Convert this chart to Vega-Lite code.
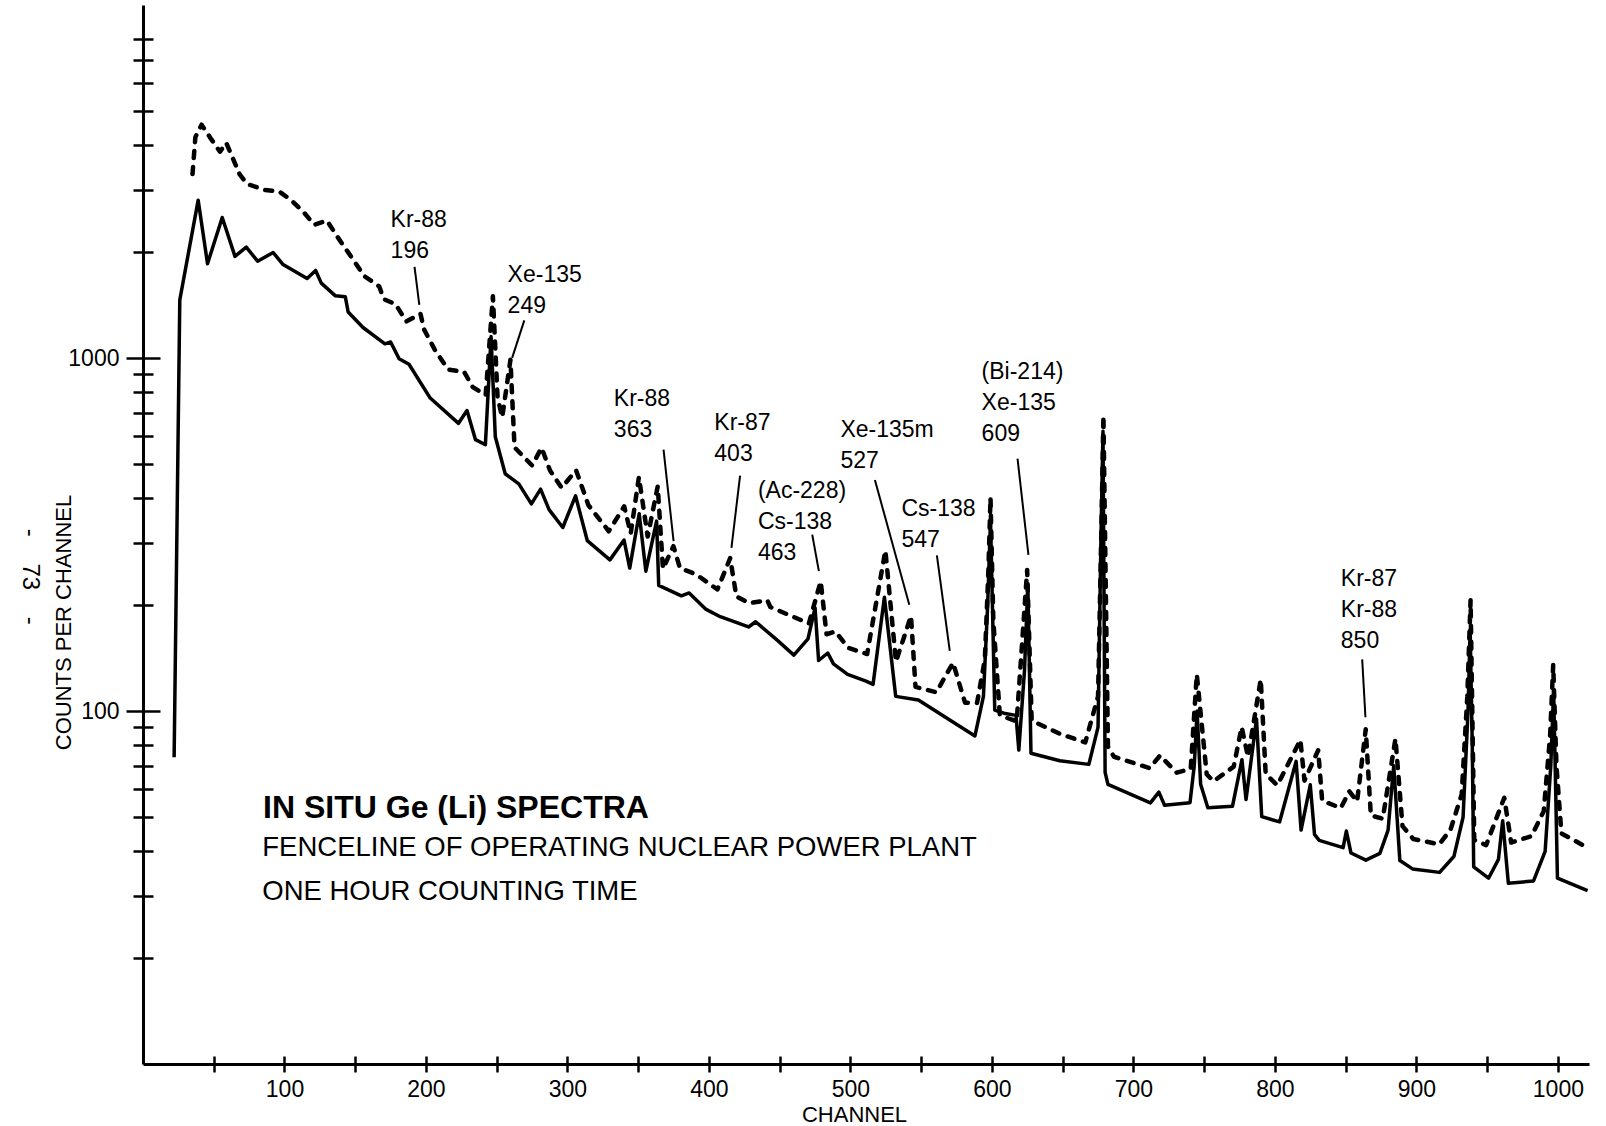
{
  "$schema": "https://vega.github.io/schema/vega-lite/v6.json",
  "width": 1446,
  "height": 1059,
  "autosize": "none",
  "padding": {"left": 143, "top": 5, "right": 17, "bottom": 62},
  "background": "white",
  "config": {
    "view": {"stroke": null},
    "font": "Liberation Sans",
    "axis": {"domainColor": "black", "tickColor": "black", "labelColor": "black", "titleColor": "black", "grid": false, "labelFont": "Liberation Sans", "titleFont": "Liberation Sans"}
  },
  "datasets": {
    "solid": [
      {"ch":22,"count":74},{"ch":26,"count":1460},{"ch":39,"count":2800},{"ch":45.6,"count":1850},{"ch":56,"count":2500},{"ch":65,"count":1940},{"ch":73,"count":2060},{"ch":81,"count":1880},{"ch":92,"count":1990},{"ch":99,"count":1840},{"ch":116,"count":1680},{"ch":122,"count":1770},{"ch":126,"count":1630},{"ch":136,"count":1500},{"ch":143,"count":1490},{"ch":145,"count":1350},{"ch":155.5,"count":1220},{"ch":171,"count":1097},{"ch":175,"count":1110},{"ch":181,"count":995},{"ch":188,"count":960},{"ch":203,"count":770},{"ch":223,"count":653},{"ch":229,"count":710},{"ch":235,"count":587},{"ch":242,"count":568},{"ch":246,"count":1150},{"ch":249,"count":598},{"ch":256,"count":470},{"ch":265.6,"count":440},{"ch":274.5,"count":386},{"ch":281,"count":425},{"ch":287,"count":372},{"ch":296.7,"count":331},{"ch":305.7,"count":407},{"ch":314,"count":304},{"ch":330,"count":268},{"ch":340,"count":305},{"ch":344,"count":254},{"ch":350.7,"count":362},{"ch":355.4,"count":249},{"ch":363,"count":345},{"ch":364.5,"count":227},{"ch":380.5,"count":212},{"ch":386,"count":216},{"ch":398,"count":194},{"ch":408,"count":185},{"ch":428,"count":173},{"ch":433,"count":179},{"ch":448,"count":159},{"ch":460,"count":144},{"ch":470,"count":160},{"ch":475,"count":196},{"ch":477.5,"count":139},{"ch":484,"count":146},{"ch":488,"count":136},{"ch":498,"count":127},{"ch":511,"count":121.5},{"ch":516,"count":119},{"ch":524,"count":210},{"ch":532,"count":110},{"ch":548,"count":107.5},{"ch":588,"count":85},{"ch":594,"count":110},{"ch":597,"count":200},{"ch":599,"count":350},{"ch":602,"count":100.6},{"ch":608.5,"count":98.6},{"ch":617,"count":97.2},{"ch":619,"count":77.5},{"ch":623,"count":130},{"ch":625.4,"count":228},{"ch":627.6,"count":75.9},{"ch":648,"count":72.3},{"ch":668.5,"count":70.6},{"ch":675,"count":90},{"ch":677,"count":300},{"ch":678.5,"count":620},{"ch":680,"count":67},{"ch":682,"count":62},{"ch":712,"count":54.9},{"ch":718,"count":58.9},{"ch":722,"count":54.1},{"ch":740,"count":55},{"ch":743,"count":70},{"ch":745,"count":100},{"ch":747.5,"count":62},{"ch":752.6,"count":53.2},{"ch":770,"count":53.7},{"ch":776.7,"count":72.8},{"ch":779.6,"count":56.1},{"ch":787,"count":95},{"ch":790.7,"count":50.2},{"ch":803.3,"count":48.5},{"ch":815,"count":72},{"ch":818.5,"count":46},{"ch":825,"count":61.8},{"ch":828,"count":44.7},{"ch":831.3,"count":43},{"ch":848.2,"count":41},{"ch":850.5,"count":45.7},{"ch":853.8,"count":39.6},{"ch":864.3,"count":37.8},{"ch":874.2,"count":39.5},{"ch":880,"count":46},{"ch":882.5,"count":60},{"ch":884,"count":70},{"ch":888.3,"count":37.7},{"ch":897.3,"count":35.7},{"ch":916.4,"count":34.9},{"ch":926.5,"count":38.7},{"ch":933,"count":50},{"ch":936.5,"count":100},{"ch":938,"count":170},{"ch":939.5,"count":80},{"ch":940.5,"count":36.2},{"ch":951,"count":33.6},{"ch":958,"count":38},{"ch":961,"count":48.9},{"ch":965,"count":32.5},{"ch":982.8,"count":33},{"ch":991,"count":40},{"ch":995,"count":70},{"ch":997,"count":115},{"ch":999.7,"count":33.6},{"ch":1021,"count":31}
    ],
    "dashed": [
      {"ch":35,"count":3320},{"ch":37,"count":4220},{"ch":41.4,"count":4580},{"ch":47.5,"count":4210},{"ch":54.4,"count":3840},{"ch":58.8,"count":4070},{"ch":68.2,"count":3320},{"ch":73.7,"count":3110},{"ch":86.3,"count":2990},{"ch":96.2,"count":2965},{"ch":105.2,"count":2790},{"ch":114.2,"count":2570},{"ch":121,"count":2385},{"ch":130,"count":2450},{"ch":137,"count":2217},{"ch":146.8,"count":1944},{"ch":156.4,"count":1706},{"ch":166.9,"count":1596},{"ch":170.2,"count":1468},{"ch":178.6,"count":1419},{"ch":186.1,"count":1269},{"ch":196.1,"count":1334},{"ch":198.7,"count":1203},{"ch":206.2,"count":1056},{"ch":215.7,"count":927},{"ch":227,"count":913},{"ch":233.1,"count":827},{"ch":242.2,"count":785},{"ch":247.3,"count":1496},{"ch":250.6,"count":774},{"ch":253.9,"count":679},{"ch":259.7,"count":988},{"ch":262.6,"count":558},{"ch":275,"count":496},{"ch":281.7,"count":557},{"ch":287.7,"count":480},{"ch":295.9,"count":429},{"ch":306.1,"count":481},{"ch":314.8,"count":383},{"ch":329.2,"count":323},{"ch":340.1,"count":380},{"ch":344.7,"count":318},{"ch":350.5,"count":460},{"ch":356.7,"count":312},{"ch":363.8,"count":433},{"ch":367.5,"count":253},{"ch":374.9,"count":293},{"ch":379.5,"count":254},{"ch":390.8,"count":244},{"ch":406,"count":221},{"ch":415,"count":271},{"ch":419.4,"count":211},{"ch":428.5,"count":202},{"ch":441.2,"count":206},{"ch":443.4,"count":197},{"ch":470.6,"count":177},{"ch":479,"count":233},{"ch":483.1,"count":165},{"ch":489.5,"count":168},{"ch":498.4,"count":151},{"ch":511.8,"count":145},{"ch":524.7,"count":285},{"ch":532.2,"count":138},{"ch":542.8,"count":186},{"ch":546,"count":117},{"ch":560.7,"count":113},{"ch":572.5,"count":137},{"ch":581,"count":105.6},{"ch":589.5,"count":105.4},{"ch":595,"count":140},{"ch":597.5,"count":250},{"ch":599,"count":402},{"ch":601,"count":180},{"ch":605.6,"count":97.3},{"ch":617.5,"count":93.4},{"ch":624.9,"count":251},{"ch":628.1,"count":93.9},{"ch":648.5,"count":86},{"ch":666,"count":81.5},{"ch":675,"count":110},{"ch":677.5,"count":350},{"ch":678.8,"count":688},{"ch":682,"count":79.3},{"ch":686.3,"count":74.2},{"ch":711.5,"count":68.9},{"ch":718.8,"count":74.8},{"ch":730.6,"count":66.9},{"ch":740.5,"count":68.5},{"ch":744.8,"count":127},{"ch":751.8,"count":66.2},{"ch":756.6,"count":63.2},{"ch":770.9,"count":69.6},{"ch":776.5,"count":90.1},{"ch":781,"count":74.1},{"ch":790,"count":123},{"ch":793.5,"count":66.3},{"ch":801.7,"count":61.6},{"ch":818,"count":82.8},{"ch":820.9,"count":63.5},{"ch":830.6,"count":77.4},{"ch":833.4,"count":55.7},{"ch":846.6,"count":53.1},{"ch":852.6,"count":59.2},{"ch":858.1,"count":55.4},{"ch":864.2,"count":88.8},{"ch":867.8,"count":50.6},{"ch":876.2,"count":49.5},{"ch":885.2,"count":83.5},{"ch":890.2,"count":47.2},{"ch":897.8,"count":43.4},{"ch":916.1,"count":41.9},{"ch":924.1,"count":46.1},{"ch":932,"count":58},{"ch":936,"count":110},{"ch":938.3,"count":206},{"ch":940.9,"count":43.1},{"ch":949.3,"count":41.7},{"ch":962.1,"count":56.8},{"ch":967,"count":42.4},{"ch":981.3,"count":44.2},{"ch":990,"count":52},{"ch":994.5,"count":85},{"ch":996.7,"count":135},{"ch":999,"count":70},{"ch":1002.5,"count":45},{"ch":1021,"count":41}
    ],
    "notes": [
      {"ch":175,"count":2642,"label":"Kr-88\n196"},
      {"ch":257.7,"count":1851,"label":"Xe-135\n249"},
      {"ch":332.8,"count":820,"label":"Kr-88\n363"},
      {"ch":403.8,"count":704,"label":"Kr-87\n403"},
      {"ch":434.6,"count":451,"label":"(Ac-228)\nCs-138\n463"},
      {"ch":492.9,"count":672,"label":"Xe-135m\n527"},
      {"ch":536.1,"count":400,"label":"Cs-138\n547"},
      {"ch":592.7,"count":980,"label":"(Bi-214)\nXe-135\n609"},
      {"ch":846.6,"count":254,"label":"Kr-87\nKr-88\n850"}
    ],
    "leaders": [
      {"ch":191.9,"count":1811,"ch2":195.3,"count2":1415},
      {"ch":269.5,"count":1278,"ch2":260.9,"count2":1001},
      {"ch":367.9,"count":550,"ch2":375,"count2":303},
      {"ch":422,"count":464,"ch2":415.9,"count2":290},
      {"ch":473,"count":316,"ch2":477.7,"count2":249},
      {"ch":517.3,"count":451,"ch2":541.6,"count2":200},
      {"ch":561.1,"count":276,"ch2":570.2,"count2":148},
      {"ch":618.1,"count":519,"ch2":625.8,"count2":277},
      {"ch":861.7,"count":140,"ch2":864,"count2":96}
    ],
    "title": [{"ch":84.9,"count":58.7,"label":"IN SITU Ge (Li) SPECTRA"}],
    "subtitle": [{"ch":84.3,"count":44.8,"label":"FENCELINE OF OPERATING NUCLEAR POWER PLANT\nONE HOUR COUNTING TIME"}],
    "page": [{"ch":-80,"count":240,"label":"-\u00a0\u00a0\u00a0\u00a073\u00a0\u00a0\u00a0\u00a0-"}]
  },
  "layer": [
    {
      "layer": [
        {
          "data": {"name": "solid"},
          "mark": {"type": "line", "stroke": "black", "strokeWidth": 3.5, "strokeJoin": "round", "clip": false},
          "encoding": {
            "x": {"field": "ch", "type": "quantitative", "scale": {"domain": [0, 1022], "nice": false, "zero": false},
              "axis": {"orient": "bottom", "values": [50,100,150,200,250,300,350,400,450,500,550,600,650,700,750,800,850,900,950,1000], "format": "d",
                "labelExpr": "datum.value % 100 === 0 ? datum.label : ''", "tickSize": 8, "tickWidth": 2.5, "domainWidth": 3,
                "labelFontSize": 23, "labelPadding": 6, "title": "CHANNEL", "titleFontSize": 22, "titleFontWeight": "normal",
                "titleX": 711, "titleY": 50, "titleBaseline": "middle", "titleAlign": "center"}},
            "y": {"field": "count", "type": "quantitative", "scale": {"type": "log", "domain": [10, 10000], "nice": false},
              "axis": {"orient": "left", "values": [20,30,40,50,60,70,80,90,100,200,300,400,500,600,700,800,900,1000,2000,3000,4000,5000,6000,7000,8000],
                "labelExpr": "datum.value == 1000 ? '1000' : (datum.value == 100 ? '100' : '')",
                "tickSize": {"condition": {"test": "datum.value == 100 || datum.value == 1000", "value": 17}, "value": 10},
                "tickWidth": 2.5, "domainWidth": 3, "labelFontSize": 23, "labelPadding": 7,
                "title": "COUNTS PER CHANNEL", "titleFontSize": 22, "titleFontWeight": "normal",
                "titleX": -80, "titleY": 617, "titleAngle": 270, "titleBaseline": "middle", "titleAlign": "center"}}
          }
        },
        {
          "data": {"name": "dashed"},
          "mark": {"type": "line", "stroke": "black", "strokeWidth": 4.5, "strokeDash": [7, 9], "strokeCap": "round", "strokeJoin": "round", "clip": false},
          "encoding": {
            "x": {"field": "ch", "type": "quantitative"},
            "y": {"field": "count", "type": "quantitative"}
          }
        },
        {
          "data": {"name": "notes"},
          "mark": {"type": "text", "align": "left", "baseline": "top", "fontSize": 23, "lineBreak": "\n", "lineHeight": 31, "font": "Liberation Sans", "color": "black"},
          "encoding": {
            "x": {"field": "ch", "type": "quantitative"},
            "y": {"field": "count", "type": "quantitative"},
            "text": {"field": "label"}
          }
        },
        {
          "data": {"name": "title"},
          "mark": {"type": "text", "align": "left", "baseline": "top", "fontSize": 32, "fontWeight": "bold", "font": "Liberation Sans", "color": "black"},
          "encoding": {
            "x": {"field": "ch", "type": "quantitative"},
            "y": {"field": "count", "type": "quantitative"},
            "text": {"field": "label"}
          }
        },
        {
          "data": {"name": "subtitle"},
          "mark": {"type": "text", "align": "left", "baseline": "top", "fontSize": 27.5, "lineBreak": "\n", "lineHeight": 44, "font": "Liberation Sans", "color": "black"},
          "encoding": {
            "x": {"field": "ch", "type": "quantitative"},
            "y": {"field": "count", "type": "quantitative"},
            "text": {"field": "label"}
          }
        },
        {
          "data": {"name": "page"},
          "mark": {"type": "text", "align": "center", "baseline": "middle", "fontSize": 24, "angle": 90, "font": "Liberation Sans", "color": "black"},
          "encoding": {
            "x": {"field": "ch", "type": "quantitative"},
            "y": {"field": "count", "type": "quantitative"},
            "text": {"field": "label"}
          }
        }
      ]
    },
    {
      "data": {"name": "leaders"},
      "mark": {"type": "rule", "stroke": "black", "strokeWidth": 2},
      "encoding": {
        "x": {"field": "ch", "type": "quantitative", "scale": {"domain": [0, 1022], "nice": false, "zero": false},
          "axis": {"orient": "top", "offset": -1059, "values": [50,100,150,200,250,300,350,400,450,500,550,600,650,700,750,800,850,900,950,1000],
            "labels": false, "domain": false, "title": null, "tickSize": 8, "tickWidth": 2.5}},
        "y": {"field": "count", "type": "quantitative", "scale": {"type": "log", "domain": [10, 10000], "nice": false},
          "axis": {"orient": "right", "offset": -1446, "values": [20,30,40,50,60,70,80,90,100,200,300,400,500,600,700,800,900,1000,2000,3000,4000,5000,6000,7000,8000],
            "labels": false, "domain": false, "title": null,
            "tickSize": {"condition": {"test": "datum.value == 100 || datum.value == 1000", "value": 17}, "value": 10}, "tickWidth": 2.5}},
        "x2": {"field": "ch2"},
        "y2": {"field": "count2"}
      }
    }
  ],
  "resolve": {"axis": {"x": "independent", "y": "independent"}}
}
